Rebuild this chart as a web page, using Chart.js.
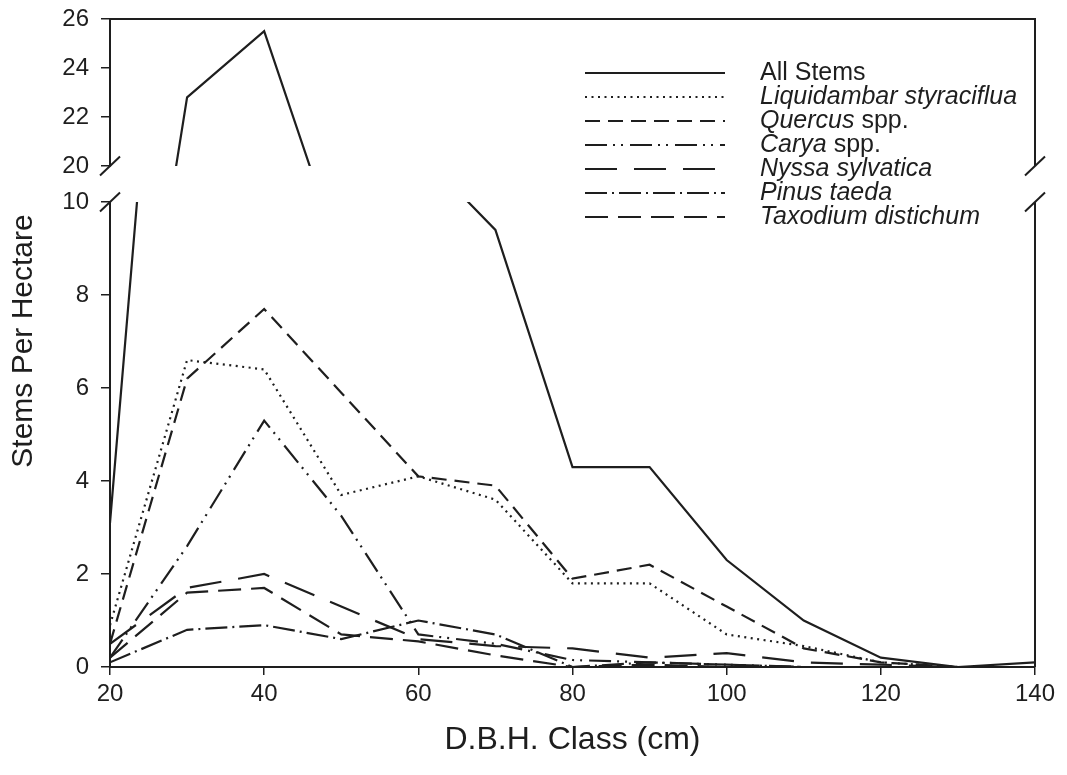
<!DOCTYPE html>
<html>
<head>
<meta charset="utf-8">
<script src="https://cdn.jsdelivr.net/npm/chart.js@4.4.1/dist/chart.umd.min.js"></script>
<style>
  html, body { margin: 0; padding: 0; background: #fff; }
  #wrap { position: relative; width: 1067px; height: 775px; }
  #boxUnten { position: absolute; left: 0; top: 0; width: 1067px; height: 775px; }
  #boxOben { position: absolute; left: 0; top: 0; width: 1067px; height: 200px; }
</style>
</head>
<body>
<div id="wrap">
  <div id="boxUnten"><canvas id="chartUnten"></canvas></div>
  <div id="boxOben"><canvas id="chartOben"></canvas></div>
</div>
<script>
// Durchmesserklassen (x) und Stammzahlen je Hektar
const dbhKlassen  = [20, 30, 40, 50, 60, 70, 80, 90, 100, 110, 120, 130, 140];
const allStems    = [3.1, 22.8, 25.5, 16.2, 11.1, 9.4, 4.3, 4.3, 2.3, 1.0, 0.2, 0.0, 0.1];
const liquidambar = [0.9, 6.6, 6.4, 3.7, 4.1, 3.6, 1.8, 1.8, 0.7, 0.45, 0.1, 0.0, 0.0];
const quercus     = [0.5, 6.2, 7.7, 5.9, 4.1, 3.9, 1.9, 2.2, 1.3, 0.4, 0.1, 0.0, 0.0];
const carya       = [0.2, 2.6, 5.3, 3.25, 0.7, 0.5, 0.15, 0.1, 0.05, 0.0, 0.0, 0.0, 0.0];
const nyssa       = [0.5, 1.7, 2.0, 1.3, 0.6, 0.45, 0.4, 0.2, 0.3, 0.1, 0.05, 0.0, 0.0];
const pinus       = [0.1, 0.8, 0.9, 0.6, 1.0, 0.7, 0.0, 0.1, 0.05, 0.0, 0.0, 0.0, 0.0];
const taxodium    = [0.2, 1.6, 1.7, 0.7, 0.55, 0.25, 0.0, 0.05, 0.0, 0.0, 0.0, 0.0, 0.0];

// Achsen: unterer und oberer Teil (unterbrochene y-Achse)
const yTicksUnten = [0, 2, 4, 6, 8, 10];
const yTicksOben  = [20, 22, 24, 26];
const xTicks      = [20, 40, 60, 80, 100, 120, 140];

// Legendentext: [Teil, kursiv?]
const serienNamen = [
  [["All Stems", false]],
  [["Liquidambar styraciflua", true]],
  [["Quercus", true], [" spp.", false]],
  [["Carya", true], [" spp.", false]],
  [["Nyssa sylvatica", true]],
  [["Pinus taeda", true]],
  [["Taxodium distichum", true]],
];
const serienWerte = [allStems, liquidambar, quercus, carya, nyssa, pinus, taxodium];

// Linienmuster pro Serie
const linienMuster = [[], [2, 4.5], [15, 8], [22, 6, 2, 6, 2, 7], [32, 17], [22, 5, 2, 5], [23, 10]];

const FARBE = "#1e1e1e";
const SCHRIFT = "'Liberation Sans', Arial, sans-serif";
Chart.defaults.font.family = SCHRIFT;
Chart.defaults.color = FARBE;

function baueDatasets(nurIndex) {
  return serienWerte
    .map((werte, i) => ({
      label: serienNamen[i].map((t) => t[0]).join(""),
      data: dbhKlassen.map((x, j) => ({ x, y: werte[j] })),
      borderColor: FARBE,
      borderWidth: 2.2,
      borderDash: linienMuster[i],
      pointRadius: 0,
      tension: 0,
      fill: false,
    }))
    .filter((d, i) => nurIndex == null || nurIndex.includes(i));
}

// Bruchzeichen "/" an der Achse
function bruch(ctx, x, y) {
  ctx.beginPath();
  ctx.moveTo(x - 10, y + 9.5);
  ctx.lineTo(x + 10, y - 9.5);
  ctx.stroke();
}

const untenDeko = {
  id: "untenDeko",
  afterDraw(chart) {
    const { ctx, chartArea: a } = chart;
    ctx.save();
    ctx.strokeStyle = FARBE;
    ctx.lineWidth = 2;
    ctx.setLineDash([]);
    // rechte Achse
    ctx.beginPath();
    ctx.moveTo(a.right, a.top);
    ctx.lineTo(a.right, a.bottom);
    ctx.stroke();
    bruch(ctx, a.left, a.top);
    bruch(ctx, a.right, a.top);

    // y-Titel über beide Teile zentriert
    ctx.fillStyle = FARBE;
    ctx.font = "30px " + SCHRIFT;
    ctx.textAlign = "center";
    ctx.textBaseline = "alphabetic";
    ctx.translate(32, 341);
    ctx.rotate(-Math.PI / 2);
    ctx.fillText("Stems Per Hectare", 0, 0);
    ctx.restore();

    // Legende
    ctx.save();
    ctx.strokeStyle = FARBE;
    ctx.fillStyle = FARBE;
    ctx.lineWidth = 2;
    ctx.textBaseline = "middle";
    ctx.textAlign = "left";
    serienNamen.forEach((teile, i) => {
      const y = 73 + i * 24;
      ctx.setLineDash(linienMuster[i]);
      ctx.beginPath();
      ctx.moveTo(585, y);
      ctx.lineTo(725, y);
      ctx.stroke();
      let x = 760;
      teile.forEach(([txt, kursiv]) => {
        ctx.font = (kursiv ? "italic " : "") + "25px " + SCHRIFT;
        ctx.fillText(txt, x, y);
        x += ctx.measureText(txt).width;
      });
    });
    ctx.restore();
  },
};

const obenDeko = {
  id: "obenDeko",
  afterDraw(chart) {
    const { ctx, chartArea: a } = chart;
    ctx.save();
    ctx.strokeStyle = FARBE;
    ctx.lineWidth = 2;
    ctx.beginPath();
    ctx.moveTo(a.left, a.top);
    ctx.lineTo(a.right, a.top);
    ctx.lineTo(a.right, a.bottom);
    ctx.stroke();
    bruch(ctx, a.left, a.bottom);
    bruch(ctx, a.right, a.bottom);
    ctx.restore();
  },
};

function yAchse(min, max, ticks) {
  return {
    type: "linear",
    min,
    max,
    // feste Breite, keine Zusatzabstände oben/unten
    afterFit: (s) => { s.width = 110; s.paddingTop = 0; s.paddingBottom = 0; },
    afterBuildTicks: (s) => { s.ticks = ticks.map((v) => ({ value: v })); },
    border: { display: true, color: FARBE, width: 2 },
    grid: { drawOnChartArea: false, drawTicks: true, tickLength: 9, color: FARBE, lineWidth: 1.5 },
    ticks: { padding: 12, color: FARBE, font: { size: 24 } },
  };
}

// Unterer Teil 0–10 mit x-Achse
new Chart(document.getElementById("chartUnten"), {
  type: "line",
  data: { datasets: baueDatasets() },
  options: {
    responsive: true,
    maintainAspectRatio: false,
    animation: false,
    layout: { padding: { left: 0, right: 32, top: 202, bottom: 0 } },
    plugins: { legend: { display: false }, tooltip: { enabled: false } },
    scales: {
      x: {
        type: "linear",
        min: 20,
        max: 140,
        afterFit: (s) => { s.height = 108; s.paddingLeft = 0; s.paddingRight = 0; },
        afterBuildTicks: (s) => { s.ticks = xTicks.map((v) => ({ value: v })); },
        border: { display: true, color: FARBE, width: 2 },
        grid: { drawOnChartArea: false, drawTicks: true, tickLength: 8, color: FARBE, lineWidth: 1.5 },
        ticks: { padding: 5, color: FARBE, font: { size: 24 }, maxRotation: 0 },
        title: {
          display: true,
          text: "D.B.H. Class (cm)",
          color: FARBE,
          font: { size: 32 },
          padding: { top: 0, bottom: 16 },
        },
      },
      y: yAchse(0, 10, yTicksUnten),
    },
  },
  plugins: [untenDeko],
});

// Oberer Teil 20–26
new Chart(document.getElementById("chartOben"), {
  type: "line",
  data: { datasets: baueDatasets([0]) },
  options: {
    responsive: true,
    maintainAspectRatio: false,
    animation: false,
    layout: { padding: { left: 0, right: 32, top: 19, bottom: 34 } },
    plugins: { legend: { display: false }, tooltip: { enabled: false } },
    scales: {
      x: { type: "linear", min: 20, max: 140, display: false },
      y: yAchse(20, 26, yTicksOben),
    },
  },
  plugins: [obenDeko],
});
</script>
</body>
</html>
